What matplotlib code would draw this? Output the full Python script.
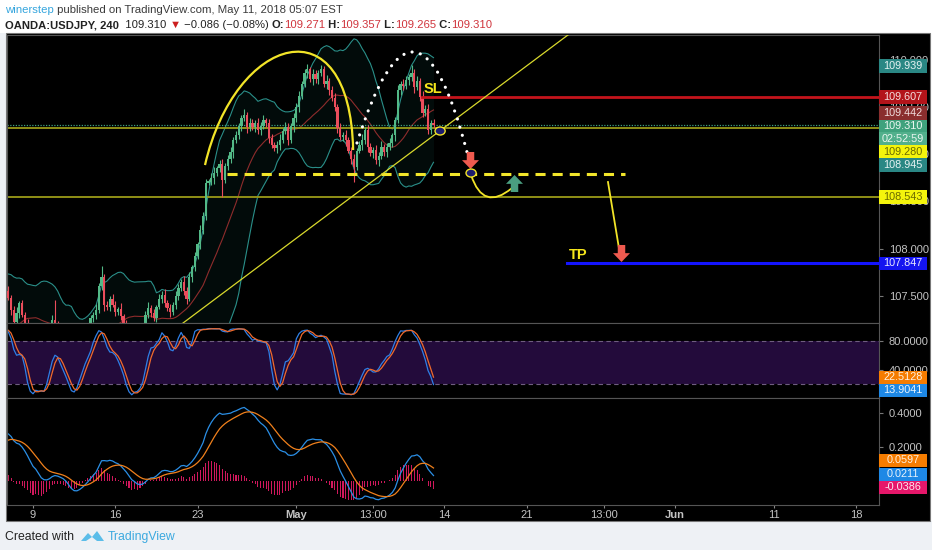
import numpy as np
import pandas as pd
import matplotlib
matplotlib.use("Agg")
import matplotlib.pyplot as plt
from matplotlib.path import Path
from matplotlib.patches import PathPatch, Rectangle, Ellipse, Polygon

plt.rcParams['font.family'] = ['Liberation Sans', 'DejaVu Sans']

W, H = 932, 550

# ------------------------------------------------------------
# DATA  (4h bars, bar 0 = Apr 9 00:00, first bar index = -33)
# ------------------------------------------------------------
closes = [
    # history before the visible window (needed for the indicators)
    106.30, 106.40, 106.50, 106.45, 106.35, 106.40, 106.50, 106.60, 106.70, 106.80, 106.75, 106.85,
    106.95, 106.90, 107.00, 107.10, 107.15, 107.20, 107.25, 107.35, 107.40, 107.45, 107.50, 107.55,
    # visible
    107.48, 107.35, 107.22, 107.32, 107.42, 107.30, 107.20,
    107.10, 107.00, 106.95, 107.05, 106.90, 106.85, 106.95, 107.05,
    107.15, 107.24, 107.20, 107.10, 107.05,
    107.02, 106.92, 106.80, 106.72, 106.78, 106.88, 106.98, 107.05, 107.12,
    107.18, 107.26, 107.30, 107.35, 107.60, 107.70, 107.40, 107.38, 107.47,
    107.40, 107.33, 107.36, 107.28, 107.20,
    107.15, 107.05, 107.00, 107.08, 107.02, 107.10, 107.18,
    107.30, 107.37, 107.32,
    107.26, 107.38, 107.47, 107.51, 107.42, 107.37, 107.33, 107.40, 107.50,
    107.58, 107.65, 107.55, 107.47, 107.70, 107.80,
    107.92, 108.05, 108.20, 108.35, 108.70, 108.71,
    108.75, 108.80, 108.85, 108.90, 108.73,
    108.88, 108.95, 109.02, 109.15, 109.20, 109.30, 109.38,
    109.42, 109.29, 109.33, 109.29, 109.33, 109.26, 109.30, 109.36, 109.33, 109.17, 109.10, 109.07,
    109.10, 109.15, 109.25, 109.29, 109.15,
    109.30, 109.38, 109.50, 109.62, 109.75, 109.86, 109.90, 109.80, 109.85, 109.80, 109.86, 109.90,
    109.75, 109.78, 109.68, 109.60, 109.50, 109.28, 109.18, 109.20, 109.15, 109.04, 108.95, 108.87,
    109.04, 109.10, 109.15, 109.26, 109.08, 109.01, 109.05, 108.94, 108.98, 109.08, 109.02, 109.08,
    109.12, 109.20, 109.36, 109.68, 109.75, 109.72, 109.79, 109.82, 109.86, 109.71, 109.78, 109.61,
    109.44, 109.48, 109.26, 109.33, 109.31,
]
# wick lengths in pips (0.01)
up_wick = [
    4, 3, 5, 2, 6, 3, 4, 5, 3, 2, 4, 6,
    3, 5, 2, 4, 3, 6, 4, 2, 5, 3, 4, 3,
    5, 3, 4, 6, 2, 4, 3, 5, 4, 3, 6, 2,
    4, 5, 3, 4, 6, 21, 3, 4, 2, 5, 3, 4,
    3, 6, 4, 2, 5, 3, 4, 3, 6, 4, 12, 3,
    4, 3, 5, 4, 2, 6, 3, 4, 5, 3, 4, 2,
    5, 3, 4, 6, 3, 4, 2, 5, 4, 6, 3, 4,
    3, 5, 4, 3, 6, 4, 5, 3, 4, 2, 5, 4,
    4, 3, 5, 6, 3, 4, 5, 3, 4, 6, 3, 5,
    3, 4, 6, 3, 5, 4, 3, 5, 4, 6, 3, 4,
    5, 3, 4, 6, 3, 5, 4, 3, 6, 4, 5, 3,
    4, 6, 3, 5, 4, 3, 5, 4, 6, 3, 4, 5,
    3, 5, 4, 6, 3, 4, 5, 3, 4, 6, 3, 5,
    4, 3, 5, 4, 6, 3, 4, 5, 3, 4, 6, 3,
    5, 4, 3, 9, 4, 5, 3, 6, 4, 5, 3, 4,
]
dn_wick = [
    3, 4, 2, 5, 3, 4, 6, 3, 2, 4, 5, 3,
    4, 2, 5, 3, 4, 3, 2, 5, 3, 4, 2, 6,
    3, 5, 4, 2, 6, 3, 4, 3, 5, 4, 2, 3,
    5, 3, 4, 6, 3, 4, 5, 2, 4, 3, 6, 4,
    4, 3, 5, 2, 4, 6, 3, 4, 5, 3, 4, 6,
    3, 4, 2, 5, 3, 4, 6, 3, 4, 5, 3, 4,
    4, 6, 3, 4, 5, 3, 4, 2, 5, 4, 3, 6,
    3, 4, 5, 3, 4, 6, 3, 5, 4, 3, 5, 4,
    5, 3, 4, 6, 3, 4, 18, 3, 5, 4, 6, 3,
    4, 5, 3, 6, 4, 3, 5, 4, 6, 3, 4, 5,
    3, 4, 6, 5, 3, 4, 5, 3, 6, 4, 5, 3,
    4, 5, 3, 6, 4, 5, 3, 4, 6, 5, 3, 4,
    5, 3, 4, 6, 3, 5, 16, 4, 3, 5, 4, 6,
    3, 5, 4, 6, 3, 4, 5, 3, 4, 6, 3, 5,
    4, 3, 5, 4, 6, 3, 5, 4, 3, 5, 4, 3,
]
first_bar = -33

tick_pos = [0, 30, 60, 96, 124, 150, 180, 208, 234, 270, 300]
tick_lab = ['9', '16', '23', 'May', '13:00', '14', '21', '13:00', 'Jun', '11', '18']

price_ticks = [107.5, 108.0, 108.5, 109.0, 109.5, 110.0]
stoch_ticks = [40, 80]
macd_ticks = [0.2, 0.4]

# drawings on the chart (bar index, price)
sl_price, sl_from = 109.607, 141.8
tp_price, tp_from = 107.847, 194.7
hline_prices = [109.280, 108.543]
last_price = 109.310
neck_price, neck_from, neck_to = 108.791, 70.7, 215.8
trend_pts = [(54.7, 107.211), (195.0, 110.265)]
arc_pts = [(62.7, 108.886), (73.6, 110.265), (115.6, 110.636), (116.7, 109.045)]
dots_pts = [(118.1, 109.120), (139.6, 111.097), (158.2, 109.024)]
swing_pts = [(159.7, 108.780), (164.1, 108.388), (174.6, 108.642)]
drop_pts = [(209.6, 108.706), (213.6, 108.006)]
down_arrows = [(159.3, 108.939), (214.4, 107.953)]
up_arrows = [(175.4, 108.695)]
circles = [(148.4, 109.247), (159.7, 108.801)]

# right scale value tags: text, y pixel, box colour, text colour
tags = [
    ('109.939', 66, '#2a8784', '#e6f2f2'),
    ('109.607', 97, '#b3141a', '#f4dede'),
    ('109.442', 113, '#8a2e2e', '#f0dcdc'),
    ('109.310', 126, '#3fa27d', '#eaf6f0'),
    ('02:52:59', 139, '#52b08c', '#eaf6f0'),
    ('109.280', 152, '#f4f40c', '#6a6a00'),
    ('108.945', 165, '#2a8784', '#e6f2f2'),
    ('108.543', 197, '#f4f40c', '#6a6a00'),
    ('107.847', 263, '#1414f0', '#e8e8ff'),
    ('22.5128', 377, '#f57c00', '#fff1e0'),
    ('13.9041', 390, '#1e88e5', '#e6f2fc'),
    ('0.0597', 460, '#f57c00', '#fff1e0'),
    ('0.0211', 474, '#1e88e5', '#e6f2fc'),
    ('-0.0386', 487, '#e6176a', '#fde6ef'),
]

# ------------------------------------------------------------
# indicators
# ------------------------------------------------------------
x = np.arange(first_bar, first_bar + len(closes))
c = pd.Series(closes, dtype=float)
o = c.shift(1).fillna(c.iloc[0])
hi = np.maximum(o, c) + np.array(up_wick) / 100
lo = np.minimum(o, c) - np.array(dn_wick) / 100

basis = c.rolling(20).mean()
dev = c.rolling(20).std(ddof=0)
upper = basis + 2 * dev
lower = basis - 2 * dev

ll = lo.rolling(14).min()
hh = hi.rolling(14).max()
k = (100 * (c - ll) / (hh - ll)).rolling(3).mean()
d = k.rolling(3).mean()

macd = c.ewm(span=12, adjust=False).mean() - c.ewm(span=26, adjust=False).mean()
signal = macd.ewm(span=9, adjust=False).mean()
hist = macd - signal

# ------------------------------------------------------------
# figure
# ------------------------------------------------------------
def frac(l, t, r, b):
    return [l / W, 1 - b / H, (r - l) / W, (b - t) / H]

fig = plt.figure(figsize=(W / 100, H / 100), dpi=100, facecolor='white')

bg = fig.add_axes([0, 0, 1, 1], zorder=-1)
bg.set_xlim(0, W)
bg.set_ylim(H, 0)
bg.axis('off')
bg.add_patch(Rectangle((0, 33), 6, 490, fc='#eef1f5', ec='none'))
bg.add_patch(Rectangle((0, 521), W, 29, fc='#eef1f5', ec='none'))
bg.add_patch(Rectangle((6, 33), 924, 488, fc='black', ec='#777777', lw=0.8))

XL = (-9.48, 308.4)
ax = fig.add_axes(frac(7, 35, 879, 323))
axs = fig.add_axes(frac(7, 323, 879, 398))
axm = fig.add_axes(frac(7, 398, 879, 505))

for a in (ax, axs, axm):
    a.set_facecolor('black')
    a.set_xlim(*XL)
    for sp in a.spines.values():
        sp.set_color('#555555')
    a.yaxis.tick_right()
    a.tick_params(axis='y', colors='#777777', labelcolor='#c3c3c3', labelsize=8, length=3, pad=4)
for a in (ax, axs):
    a.set_xticks([])

# --- price pane
ax.set_ylim(107.211, 110.265)
ax.set_yticks(price_ticks)
ax.set_yticklabels([f'{v:.3f}' for v in price_ticks])

ax.fill_between(x, lower, upper, color='#1e9e96', alpha=0.07, lw=0)
ax.plot(x, upper, color='#2a8f89', lw=0.8)
ax.plot(x, lower, color='#2a8f89', lw=0.8)
ax.plot(x, basis, color='#8e2c2c', lw=0.8)

up = c >= o
cols = np.where(up, '#53b987', '#eb4d5c')
ax.vlines(x, lo, hi, colors=cols, lw=0.8, zorder=3)
ax.bar(x, np.maximum((c - o).abs(), 0.012), bottom=np.minimum(o, c), width=0.82,
       color=cols, lw=0, zorder=3)

ax.axhline(last_price, color='#3fa27d', lw=0.9, ls=(0, (1, 1.2)), zorder=2)
for p in hline_prices:
    ax.axhline(p, color='#9a9a18', lw=1.3, zorder=2)
ax.plot([sl_from, XL[1]], [sl_price, sl_price], color='#c4141b', lw=2.0, zorder=4)
ax.plot([tp_from, XL[1]], [tp_price, tp_price], color='#1414ff', lw=2.2, zorder=4)
ax.plot([neck_from, neck_to], [neck_price, neck_price], color='#f2e52a', lw=2.2,
        ls=(0, (3.3, 2.3)), zorder=4)

(tx0, ty0), (tx1, ty1) = trend_pts
slope = (ty1 - ty0) / (tx1 - tx0)
ax.plot([tx0 - 20, tx1 + 20], [ty0 - 20 * slope, ty1 + 20 * slope], color='#d9d92c', lw=0.9, zorder=4)

ax.add_patch(PathPatch(Path(arc_pts, [Path.MOVETO, Path.CURVE4, Path.CURVE4, Path.CURVE4]),
                       fill=False, ec='#f2e428', lw=1.6, zorder=5))
ax.add_patch(PathPatch(Path(dots_pts, [Path.MOVETO, Path.CURVE3, Path.CURVE3]),
                       fill=False, ec='white', lw=2.3, ls=(0, (0.01, 2.65)),
                       capstyle='round', zorder=5))
ax.add_patch(PathPatch(Path(swing_pts, [Path.MOVETO, Path.CURVE3, Path.CURVE3]),
                       fill=False, ec='#f2e428', lw=1.3, zorder=5))
ax.plot(*zip(*drop_pts), color='#f2e428', lw=1.3, zorder=5)

arrow_dn = Path([(-0.22, 0.5), (0.22, 0.5), (0.22, 0.02), (0.5, 0.02), (0, -0.5),
                 (-0.5, 0.02), (-0.22, 0.02), (-0.22, 0.5)], closed=True)
arrow_up = Path([(vx, -vy) for vx, vy in arrow_dn.vertices], closed=True)
ax.scatter(*zip(*down_arrows), marker=arrow_dn, s=150, color='#ef5a4f', lw=0, zorder=6)
ax.scatter(*zip(*up_arrows), marker=arrow_up, s=150, color='#4a9e80', lw=0, zorder=6)
for cx, cy in circles:
    ax.add_patch(Ellipse((cx, cy), 3.7, 0.085, fc='#1c1c70', ec='#f2e428', lw=1.0, zorder=7))

ax.text(145.8, 109.692, 'SL', color='#f5e51b', fontsize=10.5, fontweight='bold',
        ha='center', va='center', zorder=7)
ax.text(198.7, 107.935, 'TP', color='#f5e51b', fontsize=10.5, fontweight='bold',
        ha='center', va='center', zorder=7)

# --- stochastic pane
axs.set_ylim(0.5, 105)
axs.axhspan(20, 80, color='#230b3b', lw=0)
for lvl in (20, 80):
    axs.axhline(lvl, color='#6f5d80', lw=0.8, ls=(0, (4, 3)))
axs.plot(x, k, color='#2f7fe6', lw=0.9)
axs.plot(x, d, color='#f06a2c', lw=0.9)
axs.set_yticks(stoch_ticks)
axs.set_yticklabels([f'{v:.4f}' for v in stoch_ticks])

# --- MACD pane
axm.set_ylim(-0.141, 0.488)
axm.bar(x, hist, width=0.38, color='#d0185c', lw=0)
axm.plot(x, macd, color='#2b8fe6', lw=0.9)
axm.plot(x, signal, color='#f0801c', lw=0.9)
axm.set_yticks(macd_ticks)
axm.set_yticklabels([f'{v:.4f}' for v in macd_ticks])
axm.set_xticks(tick_pos)
axm.set_xticklabels(tick_lab)
axm.tick_params(axis='x', colors='#888888', labelcolor='#c3c3c3', labelsize=8, length=2, pad=1.5)
for lab in axm.get_xticklabels():
    if lab.get_text() in ('May', 'Jun'):
        lab.set_fontweight('bold')

# --- value tags on the right scale
for txt, yp, fc, tc in tags:
    fig.add_artist(Rectangle((879 / W, 1 - (yp + 6.5) / H), 48 / W, 13 / H,
                             transform=fig.transFigure, fc=fc, ec='none', zorder=10))
    fig.text(903 / W, 1 - yp / H, txt, ha='center', va='center', color=tc,
             fontsize=7.8, zorder=11)

# --- header
def chain(parts, xp, yp, size):
    prev = None
    for s, col, wt in parts:
        if prev is None:
            prev = bg.text(xp, yp, s, color=col, fontweight=wt, fontsize=size, va='baseline')
        else:
            prev = bg.annotate(s, xy=(1, 0), xycoords=prev, color=col, fontweight=wt,
                               fontsize=size, va='bottom', ha='left')
    return prev

dark = '#222222'
red = '#d0343c'
chain([('winerstep', '#36a6de', 'normal'),
       (' published on TradingView.com, May 11, 2018 05:07 EST', '#3a3a3a', 'normal')],
      5, 13, 8.2)
chain([('OANDA:USDJPY, 240', dark, 'bold'), ('  109.310 ', dark, 'normal'),
       ('▼', '#cc1f1f', 'normal'), (' −0.086 (−0.08%) ', dark, 'normal'),
       ('O:', dark, 'bold'), ('109.271', red, 'normal'),
       (' H:', dark, 'bold'), ('109.357', red, 'normal'),
       (' L:', dark, 'bold'), ('109.265', red, 'normal'),
       (' C:', dark, 'bold'), ('109.310', red, 'normal')],
      5, 28, 8.1)

# --- footer
bg.text(5, 540, 'Created with', color='#222222', fontsize=8.8, va='baseline')
bg.add_patch(Polygon([(81, 541), (88, 533), (92, 537), (97, 531), (104, 541)],
                     closed=True, fc='#5bbde9', ec='none'))
bg.add_patch(Polygon([(86, 541), (92, 537), (97, 541)], closed=True, fc='#eef1f5', ec='none'))
bg.text(108, 540, 'TradingView', color='#3ba9df', fontsize=8.8, va='baseline')

fig.savefig('out.png', dpi=100, facecolor=fig.get_facecolor())
